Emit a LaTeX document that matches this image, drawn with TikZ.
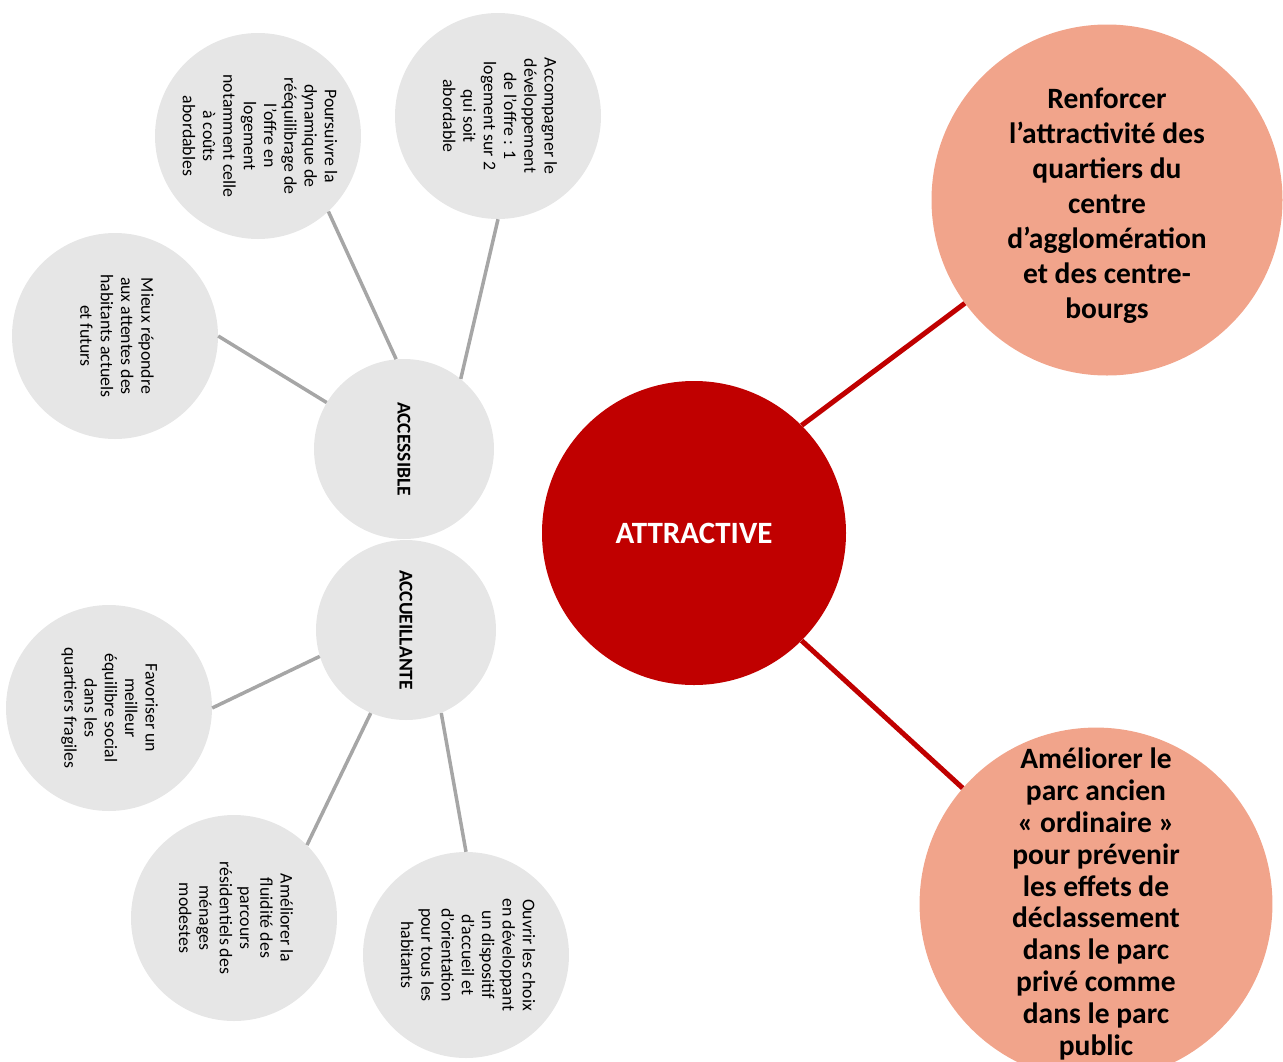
\documentclass[tikz,border=0pt]{standalone}
\usepackage{fontspec}
\usepackage{graphicx}
\setmainfont{Carlito}
\definecolor{coreRed}{RGB}{192,0,0}
\definecolor{salmon}{RGB}{241,164,139}
\definecolor{bubbleGrey}{RGB}{230,230,230}
\definecolor{linkGrey}{RGB}{166,166,166}
% vertical (top-to-bottom) multi-line text
\newcommand\vlines[1]{\rotatebox{-90}{\begin{tabular}{@{}c@{}}#1\end{tabular}}}
\tikzset{
  core/.style={circle, fill=coreRed, minimum size=304pt, inner sep=0pt,
    text=white, font=\fontsize{31}{36}\selectfont\bfseries},
  goal/.style={circle, fill=salmon, minimum size=351pt, inner sep=0pt,
    align=center, font=\fontsize{29.5}{35}\selectfont\bfseries},
  goaltext/.style={align=center, inner sep=0pt,
    font=\fontsize{29.5}{35}\selectfont\bfseries},
  pillar/.style={circle, fill=bubbleGrey, minimum size=180pt, inner sep=0pt,
    font=\fontsize{19.5}{23}\selectfont\bfseries},
  leaf/.style={circle, fill=bubbleGrey, minimum size=206pt, inner sep=0pt,
    font=\fontsize{17.8}{20.3}\selectfont},
  redlink/.style={draw=coreRed, line width=5pt},
  greylink/.style={draw=linkGrey, line width=3.5pt},
}
\begin{document}
\begin{tikzpicture}[x=1pt, y=-1pt]
\useasboundingbox (0,0) rectangle (1283,1061);
\clip (0,0) rectangle (1283,1061);

% central theme and its two goals
\node[core] (attr) at (694,533) {ATTRACTIVE};
\node[goal] (renf) at (1107,200) {};
\node[goaltext] (renftext) at (1107,206) {Renforcer\\l’attractivité des\\quartiers du\\centre\\d’agglomération\\et des centre-\\bourgs};
\node[goal, font=\fontsize{29.5}{31.8}\selectfont\bfseries] (amel) at (1096,904) {Améliorer le\\parc ancien\\« ordinaire »\\pour prévenir\\les effets de\\déclassement\\dans le parc\\privé comme\\dans le parc\\public};

% the two pillars
\node[pillar] (acces) at (404,449) {\rotatebox{-90}{ACCESSIBLE}};
\node[pillar] (accueil) at (406,630) {\rotatebox{-90}{ACCUEILLANTE}};

% actions of the pillar ACCESSIBLE
\node[leaf] (pours) at (258,136) {\vlines{Poursuivre la\\dynamique de\\rééquilibrage de\\l’offre en\\logement\\notamment celle\\à coûts\\abordables}};
\node[leaf] (accomp) at (498,116) {\vlines{Accompagner le\\développement\\de l’offre : 1\\logement sur 2\\qui soit\\abordable}};
\node[leaf] (mieux) at (115,336) {\vlines{Mieux répondre\\aux attentes des\\habitants actuels\\et futurs}};

% actions of the pillar ACCUEILLANTE
\node[leaf] (favor) at (109,708) {\vlines{Favoriser un\\meilleur\\équilibre social\\dans les\\quartiers fragiles}};
\node[leaf] (fluid) at (234,918) {\vlines{Améliorer la\\fluidité des\\parcours\\résidentiels des\\ménages\\modestes}};
\node[leaf] (ouvr) at (466,955) {\vlines{Ouvrir les choix\\en développant\\un dispositif\\d’accueil et\\d’orientation\\pour tous les\\habitants}};

% connectors
\draw[redlink] (attr.45) -- (renf.216);
\draw[redlink] (attr.-45) -- (amel.139);

\draw[greylink] (acces.95) -- (pours.-47);
\draw[greylink] (acces.51) -- (accomp.-90);
\draw[greylink] (acces.149) -- (mieux.0);

\draw[greylink] (accueil.197) -- (favor.0);
\draw[greylink] (accueil.247) -- (fluid.45);
\draw[greylink] (accueil.-67) -- (ouvr.90);
\end{tikzpicture}
\end{document}
